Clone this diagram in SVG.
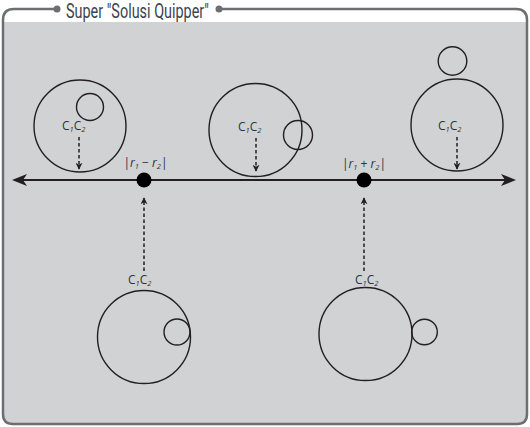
<svg xmlns="http://www.w3.org/2000/svg" width="530" height="427" viewBox="0 0 530 427">
<style>
.c{fill:none;stroke:#231f20;stroke-width:1.4}
.d{fill:none;stroke:#231f20;stroke-width:1.5;stroke-dasharray:3.5 2.5}
.lb{font-family:"Open Sans","Noto Sans",sans-serif;font-size:12px;fill:#2a3240}
.sub{font-size:7.5px;font-style:italic}
.r{font-family:"Open Sans","Noto Sans",sans-serif;font-size:12px;fill:#2a3240}
</style>
<defs>
<marker id="ah" viewBox="0 0 10 10" refX="9" refY="5" markerWidth="7" markerHeight="7" markerUnits="userSpaceOnUse" orient="auto">
<path d="M0,0 L10,5 L0,10 L3,5 Z" fill="#231f20"/>
</marker>
</defs>
<g id="frame">
<path d="M3,22 H527 V414 Q527,424 517,424 H13 Q3,424 3,414 Z" fill="#d1d2d4"/>
<path d="M57,9 H14 Q3,9 3,20 V414 Q3,424 13,424 H517 Q527,424 527,414 V20 Q527,9 516,9 H219" fill="none" stroke="#6d6e71" stroke-width="2.5"/>
<circle cx="57" cy="9" r="3.5" fill="#6d6e71"/>
<circle cx="219" cy="9" r="3.5" fill="#6d6e71"/>
<text x="66" y="17.5" font-family="Roboto,'Liberation Sans',sans-serif" font-size="21" fill="#3b4350" textLength="143" lengthAdjust="spacingAndGlyphs">Super "Solusi Quipper"</text>
</g>
<g id="connectors">
<line x1="22" y1="180" x2="506" y2="180" stroke="#231f20" stroke-width="2"/>
<path d="M12,180 L27,174 L23,180 L27,186 Z" fill="#231f20"/>
<path d="M516,180 L501,174 L505,180 L501,186 Z" fill="#231f20"/>
<line class="d" x1="79" y1="137" x2="79" y2="169" marker-end="url(#ah)"/>
<line class="d" x1="256" y1="138" x2="256" y2="171" marker-end="url(#ah)"/>
<line class="d" x1="457" y1="137" x2="457" y2="169" marker-end="url(#ah)"/>
<line class="d" x1="144" y1="271" x2="144" y2="198" marker-end="url(#ah)"/>
<line class="d" x1="364" y1="271" x2="364" y2="198" marker-end="url(#ah)"/>
</g>
<g id="point-minus">
<circle cx="144" cy="180" r="7.5" fill="#000"/>
<text class="r" x="145.5" y="167" text-anchor="middle">|<tspan font-style="italic">r</tspan><tspan class="sub" dy="2">1</tspan><tspan dy="-2"> − </tspan><tspan font-style="italic">r</tspan><tspan class="sub" dy="2">2</tspan><tspan dy="-2">|</tspan></text>
</g>
<g id="point-plus">
<circle cx="364" cy="180" r="7.5" fill="#000"/>
<text class="r" x="364" y="168" text-anchor="middle">|<tspan font-style="italic">r</tspan><tspan class="sub" dy="2">1</tspan><tspan dy="-2"> + </tspan><tspan font-style="italic">r</tspan><tspan class="sub" dy="2">2</tspan><tspan dy="-2">|</tspan></text>
</g>
<g id="node-inside">
<circle class="c" cx="80" cy="126" r="46"/>
<circle class="c" cx="90" cy="107" r="13.5"/>
<text class="lb" x="62" y="130">C<tspan class="sub" dy="2">1</tspan><tspan dy="-2">C</tspan><tspan class="sub" dy="2">2</tspan></text>
</g>
<g id="node-intersect">
<circle class="c" cx="255.5" cy="130" r="46.5"/>
<circle class="c" cx="298" cy="135" r="14.5"/>
<text class="lb" x="238" y="131">C<tspan class="sub" dy="2">1</tspan><tspan dy="-2">C</tspan><tspan class="sub" dy="2">2</tspan></text>
</g>
<g id="node-apart">
<circle class="c" cx="457" cy="125" r="46"/>
<circle class="c" cx="452.5" cy="61" r="14.3"/>
<text class="lb" x="438" y="130">C<tspan class="sub" dy="2">1</tspan><tspan dy="-2">C</tspan><tspan class="sub" dy="2">2</tspan></text>
</g>
<g id="node-internal-tangent">
<circle class="c" cx="144" cy="337" r="46.5"/>
<circle class="c" cx="177" cy="332" r="13"/>
<text class="lb" x="128" y="284">C<tspan class="sub" dy="2">1</tspan><tspan dy="-2">C</tspan><tspan class="sub" dy="2">2</tspan></text>
</g>
<g id="node-external-tangent">
<circle class="c" cx="365.5" cy="334" r="46.5"/>
<circle class="c" cx="424.5" cy="332" r="12.8"/>
<text class="lb" x="355" y="284">C<tspan class="sub" dy="2">1</tspan><tspan dy="-2">C</tspan><tspan class="sub" dy="2">2</tspan></text>
</g>
</svg>
